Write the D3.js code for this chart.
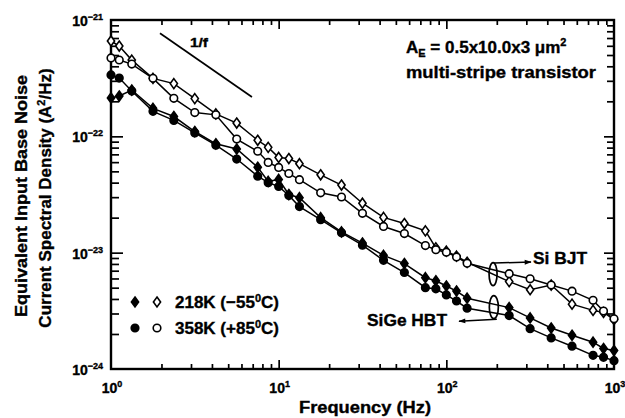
<!DOCTYPE html>
<html>
<head>
<meta charset="utf-8">
<script src="https://cdn.jsdelivr.net/npm/d3@7"></script>
<style>
body { margin: 0; background: #fff; }
text { font-family: "Liberation Sans", Arial, sans-serif; font-weight: bold; fill: #000; stroke: #000; stroke-width: 0.35px; }
</style>
</head>
<body>
<div id="chart"></div>
<script>
// frequency points (Hz), shared by all four curves
var freqs = [1, 1.12, 1.33, 1.78, 2.37, 3.16, 4.22, 5.62, 7.5, 8.66, 10, 11.5, 13.3, 17.8, 23.7,
             31.6, 42.2, 56.2, 75, 86.6, 100, 115, 133, 237, 316, 422, 562, 750, 866, 1000];

// Si BJT, 218K (open diamonds)
var siBjt218 = [6.6e-22, 5.97e-22, 4.52e-22, 3.15e-22, 2.84e-22, 2.11e-22, 1.56e-22, 1.30e-22, 9.25e-23, 8.04e-23,
                6.58e-23, 6.44e-23, 5.82e-23, 4.67e-23, 3.81e-23, 2.66e-23, 2.01e-23, 1.78e-23, 1.54e-23, 1.10e-23,
                1.03e-23, 9.33e-24, 8.27e-24, 5.64e-24, 4.80e-24, 5.27e-24, 3.61e-24, 3.19e-24, 3.06e-24, 2.66e-24];
// Si BJT, 358K (open circles)
var siBjt358 = [4.72e-22, 4.53e-22, 4.18e-22, 3.15e-22, 2.12e-22, 1.60e-22, 1.53e-22, 9.47e-23, 7.44e-23, 5.97e-23,
                5.4e-23, 4.79e-23, 4.24e-23, 3.27e-23, 3.01e-23, 2.18e-23, 1.68e-23, 1.46e-23, 1.15e-23, 1.06e-23,
                1.01e-23, 9.2e-24, 8.11e-24, 6.6e-24, 5.96e-24, 5.27e-24, 4.67e-24, 3.89e-24, 3.15e-24, 2.7e-24];
// SiGe HBT, 218K (filled diamonds)
var sige218 = [2.14e-22, 2.22e-22, 2.50e-22, 1.74e-22, 1.48e-22, 1.10e-22, 8.63e-23, 7.78e-23, 5.42e-23, 4.10e-23,
               4.26e-23, 3.16e-23, 2.97e-23, 2.0e-23, 1.51e-23, 1.21e-23, 9.48e-24, 8.06e-24, 6.09e-24, 5.73e-24,
               5.17e-24, 4.68e-24, 4.06e-24, 3.37e-24, 2.75e-24, 2.25e-24, 1.95e-24, 1.70e-24, 1.50e-24, 1.44e-24];
// SiGe HBT, 358K (filled circles)
var sige358 = [3.37e-22, 3.17e-22, 2.45e-22, 1.64e-22, 1.37e-22, 1.07e-22, 8.4e-23, 6.38e-23, 4.54e-23, 4.0e-23,
               3.71e-23, 3.1e-23, 2.49e-23, 1.92e-23, 1.48e-23, 1.16e-23, 8.59e-24, 6.75e-24, 5.0e-24, 4.89e-24,
               4.33e-24, 3.84e-24, 3.33e-24, 2.88e-24, 2.22e-24, 1.85e-24, 1.57e-24, 1.31e-24, 1.26e-24, 1.18e-24];

// 1/f guide line end points
var guideF = [1.96, 6.93];
var guideS = [7.7e-22, 2.18e-22];

var xMajor = [1, 10, 100, 1000];
var xMajorExp = ["0", "1", "2", "3"];
var yMajor = [1e-21, 1e-22, 1e-23, 1e-24];
var yMajorExp = ["\u221221", "\u221222", "\u221223", "\u221224"];

var legendLabels = ["218K (\u221255", "358K (+85"];

var W = 625, H = 418;
var plotL = 111, plotR = 614, plotT = 20, plotB = 369;

var x = d3.scaleLog().domain([1, 1000]).range([plotL, plotR]);
var y = d3.scaleLog().domain([1e-24, 1e-21]).range([plotB, plotT]);

var svg = d3.select("#chart").append("svg")
    .attr("width", W)
    .attr("height", H);

// minor tick values
var xMinor = [], yMinor = [];
[1, 10, 100].forEach(function (d) {
    for (var k = 2; k <= 9; k++) xMinor.push(d * k);
});
[1e-24, 1e-23, 1e-22].forEach(function (d) {
    for (var k = 2; k <= 9; k++) yMinor.push(d * k);
});

function tickAxis(axisFn, scale, vals, len, tx, ty) {
    var g = svg.append("g")
        .attr("transform", "translate(" + tx + "," + ty + ")")
        .call(axisFn(scale).tickValues(vals).tickSizeInner(-len).tickSizeOuter(0).tickFormat(""));
    g.select(".domain").remove();
    g.selectAll(".tick line").attr("stroke", "#000").attr("stroke-width", 1.7);
}

// ticks point inward on all four sides
tickAxis(d3.axisBottom, x, xMinor, 5, 0, plotB);
tickAxis(d3.axisBottom, x, xMajor.slice(1, 3), 9, 0, plotB);
tickAxis(d3.axisTop, x, xMinor, 5, 0, plotT);
tickAxis(d3.axisTop, x, xMajor.slice(1, 3), 9, 0, plotT);
tickAxis(d3.axisLeft, y, yMinor, 8, plotL, 0);
tickAxis(d3.axisLeft, y, yMajor.slice(1, 3), 12, plotL, 0);
tickAxis(d3.axisRight, y, yMinor, 7, plotR, 0);
tickAxis(d3.axisRight, y, yMajor.slice(1, 3), 10, plotR, 0);

svg.append("rect")
    .attr("x", plotL)
    .attr("y", plotT)
    .attr("width", plotR - plotL)
    .attr("height", plotB - plotT)
    .attr("fill", "none")
    .attr("stroke", "#000")
    .attr("stroke-width", 2.4);

// tick labels
xMajor.forEach(function (d, i) {
    var t = svg.append("text")
        .attr("x", x(d) + 1)
        .attr("y", plotB + 24)
        .attr("text-anchor", "middle")
        .style("font-size", "14px");
    t.append("tspan").text("10");
    t.append("tspan").attr("dy", -6).style("font-size", "9px").text(xMajorExp[i]);
});

yMajor.forEach(function (d, i) {
    var t = svg.append("text")
        .attr("x", plotL - 8)
        .attr("y", y(d) + 6)
        .attr("text-anchor", "end")
        .style("font-size", "14px");
    t.append("tspan").text("10");
    t.append("tspan").attr("dy", -6).style("font-size", "9px").text(yMajorExp[i]);
});

// axis titles
svg.append("text")
    .attr("x", 365)
    .attr("y", 413)
    .attr("text-anchor", "middle")
    .attr("textLength", 132)
    .attr("lengthAdjust", "spacingAndGlyphs")
    .style("font-size", "16px")
    .text("Frequency (Hz)");

svg.append("text")
    .attr("transform", "translate(27,196) rotate(-90)")
    .attr("text-anchor", "middle")
    .attr("textLength", 242)
    .attr("lengthAdjust", "spacingAndGlyphs")
    .style("font-size", "16px")
    .text("Equivalent Input Base Noise");

var yt2 = svg.append("text")
    .attr("transform", "translate(51,198) rotate(-90)")
    .attr("text-anchor", "middle")
    .style("font-size", "17px");
yt2.append("tspan").text("Current Spectral Density (A");
yt2.append("tspan").attr("dy", -6).style("font-size", "11px").text("2");
yt2.append("tspan").attr("dy", 6).text("/Hz)");

// curves
var series = [
    {values: siBjt218, shape: "diamond", filled: false},
    {values: siBjt358, shape: "circle", filled: false},
    {values: sige218, shape: "diamond", filled: true},
    {values: sige358, shape: "circle", filled: true}
];

var line = d3.line()
    .x(function (d) { return x(d[0]); })
    .y(function (d) { return y(d[1]); });

var diamondPath = "M0,-5L3.6,0L0,5L-3.6,0Z";

function drawMarker(g, shape, filled) {
    if (shape === "diamond") {
        g.append("path").attr("d", diamondPath);
    } else {
        g.append("circle").attr("r", 3.8);
    }
    g.selectAll("path,circle")
        .attr("fill", filled ? "#000" : "#fff")
        .attr("stroke", "#000")
        .attr("stroke-width", 1.6);
}

series.forEach(function (s) {
    var pts = freqs.map(function (f, i) { return [f, s.values[i]]; });
    svg.append("path")
        .attr("d", line(pts))
        .attr("fill", "none")
        .attr("stroke", "#000")
        .attr("stroke-width", 1.5);
});

series.forEach(function (s) {
    freqs.forEach(function (f, i) {
        var g = svg.append("g")
            .attr("transform", "translate(" + x(f) + "," + y(s.values[i]) + ")");
        drawMarker(g, s.shape, s.filled);
    });
});

// 1/f guide
svg.append("line")
    .attr("x1", x(guideF[0])).attr("y1", y(guideS[0]))
    .attr("x2", x(guideF[1])).attr("y2", y(guideS[1]))
    .attr("stroke", "#000")
    .attr("stroke-width", 1.7);
svg.append("text")
    .attr("x", 190)
    .attr("y", 47)
    .attr("textLength", 18)
    .attr("lengthAdjust", "spacingAndGlyphs")
    .style("font-size", "12px")
    .text("1/f");

// device note
var ae = svg.append("text")
    .attr("x", 406)
    .attr("y", 53)
    .style("font-size", "17px");
ae.append("tspan").text("A");
ae.append("tspan").attr("dy", 4).style("font-size", "11px").text("E");
ae.append("tspan").attr("dy", -4).text(" = 0.5x10.0x3 \u03bcm");
ae.append("tspan").attr("dy", -7).style("font-size", "11px").text("2");

svg.append("text")
    .attr("x", 406)
    .attr("y", 78)
    .attr("textLength", 190)
    .attr("lengthAdjust", "spacingAndGlyphs")
    .style("font-size", "16px")
    .text("multi-stripe transistor");

// legend
var legRows = [
    {y: 302, shape: "diamond"},
    {y: 328, shape: "circle"}
];
legRows.forEach(function (r, i) {
    drawMarker(svg.append("g").attr("transform", "translate(135," + r.y + ")"), r.shape, true);
    drawMarker(svg.append("g").attr("transform", "translate(157," + r.y + ")"), r.shape, false);
    var t = svg.append("text")
        .attr("x", 175)
        .attr("y", r.y + 6)
        .style("font-size", "17px");
    t.append("tspan").text(legendLabels[i]);
    t.append("tspan").attr("dy", -6).style("font-size", "11px").text("0");
    t.append("tspan").attr("dy", 6).text("C)");
});

// group ellipses and arrows
var siE = {f: 190, s: 6.55e-24};
var sigeE = {f: 192, s: 3.4e-24};

svg.append("ellipse")
    .attr("cx", x(siE.f)).attr("cy", y(siE.s))
    .attr("rx", 4).attr("ry", 11.5)
    .attr("fill", "none").attr("stroke", "#000").attr("stroke-width", 1.7);
svg.append("ellipse")
    .attr("cx", x(sigeE.f)).attr("cy", y(sigeE.s))
    .attr("rx", 4.5).attr("ry", 11.5)
    .attr("fill", "none").attr("stroke", "#000").attr("stroke-width", 1.7);

var defs = svg.append("defs");
defs.append("marker")
    .attr("id", "arr")
    .attr("viewBox", "0 0 10 10")
    .attr("refX", 9).attr("refY", 5)
    .attr("markerWidth", 9).attr("markerHeight", 7)
    .attr("markerUnits", "userSpaceOnUse")
    .attr("orient", "auto")
    .append("path")
    .attr("d", "M0,1.5L10,5L0,8.5Z")
    .attr("fill", "#000");

var siTop = y(siE.s) - 11;
svg.append("line")
    .attr("x1", x(siE.f) + 1).attr("y1", siTop)
    .attr("x2", 531).attr("y2", siTop - 1)
    .attr("stroke", "#000").attr("stroke-width", 1.5)
    .attr("marker-end", "url(#arr)");
var sigeBot = y(sigeE.s) + 12;
svg.append("line")
    .attr("x1", x(sigeE.f) + 3).attr("y1", sigeBot)
    .attr("x2", 459).attr("y2", sigeBot + 2)
    .attr("stroke", "#000").attr("stroke-width", 1.5)
    .attr("marker-end", "url(#arr)");

svg.append("text")
    .attr("x", 533)
    .attr("y", 264)
    .attr("textLength", 54)
    .attr("lengthAdjust", "spacingAndGlyphs")
    .style("font-size", "16px")
    .text("Si BJT");
svg.append("text")
    .attr("x", 367)
    .attr("y", 326)
    .attr("textLength", 80)
    .attr("lengthAdjust", "spacingAndGlyphs")
    .style("font-size", "16px")
    .text("SiGe HBT");
</script>
</body>
</html>
